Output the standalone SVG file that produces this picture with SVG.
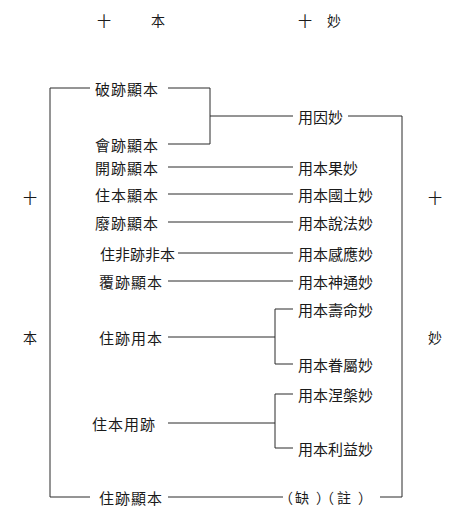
<svg xmlns="http://www.w3.org/2000/svg" width="464" height="529" viewBox="0 0 464 529">
<style>
text{font-family:"Noto Sans CJK TC","Noto Sans CJK SC",sans-serif;font-size:15px;fill:#1a1a1a;dominant-baseline:central}
.l{letter-spacing:1px}
.h{font-size:14px;text-anchor:middle}
.c line,.c polyline{stroke:#2a2a2a;stroke-width:1;fill:none}
</style>
<rect width="464" height="529" fill="#fff"/>
<g id="header">
<text class="h" x="104" y="20">十</text>
<text class="h" x="158" y="20">本</text>
<text class="h" x="305" y="20">十</text>
<text class="h" x="334" y="20">妙</text>
</g>
<g id="side">
<text class="h" x="30" y="197">十</text>
<text class="h" x="30" y="337">本</text>
<text class="h" x="435" y="197">十</text>
<text class="h" x="435" y="337">妙</text>
</g>
<g class="c" id="connectors">
<polyline points="90,88 50,88 50,497 90,497"/>
<polyline points="168,88 210,88 210,144 168,144"/>
<line x1="210" y1="116" x2="293" y2="116"/>
<polyline points="348,116 402,116 402,497 380,497"/>
<line x1="168" y1="167" x2="293" y2="167"/>
<line x1="168" y1="194" x2="293" y2="194"/>
<line x1="168" y1="222" x2="293" y2="222"/>
<line x1="178" y1="253" x2="293" y2="253"/>
<line x1="168" y1="281" x2="293" y2="281"/>
<line x1="168" y1="337" x2="275" y2="337"/>
<polyline points="293,309 275,309 275,364 293,364"/>
<line x1="168" y1="423" x2="275" y2="423"/>
<polyline points="293,394 275,394 275,448 293,448"/>
<line x1="168" y1="497" x2="283" y2="497"/>
</g>
<g id="n1"><text class="l" x="95" y="88">破跡顯本</text></g>
<g id="n2"><text class="l" x="95" y="144">會跡顯本</text></g>
<g id="n3"><text class="l" x="95" y="167">開跡顯本</text></g>
<g id="n4"><text class="l" x="95" y="194">住本顯本</text></g>
<g id="n5"><text class="l" x="95" y="222">廢跡顯本</text></g>
<g id="n6"><text x="100" y="253">住非跡非本</text></g>
<g id="n7"><text class="l" x="99" y="281">覆跡顯本</text></g>
<g id="n8"><text class="l" x="99" y="337">住跡用本</text></g>
<g id="n9"><text class="l" x="92" y="423">住本用跡</text></g>
<g id="n10"><text class="l" x="99" y="497">住跡顯本</text></g>
<g id="m1"><text x="298" y="116">用因妙</text></g>
<g id="m2"><text x="298" y="167">用本果妙</text></g>
<g id="m3"><text x="298" y="194">用本國土妙</text></g>
<g id="m4"><text x="298" y="222">用本說法妙</text></g>
<g id="m5"><text x="298" y="253">用本感應妙</text></g>
<g id="m6"><text x="298" y="281">用本神通妙</text></g>
<g id="m7"><text x="298" y="309">用本壽命妙</text></g>
<g id="m8"><text x="298" y="364">用本眷屬妙</text></g>
<g id="m9"><text x="298" y="394">用本涅槃妙</text></g>
<g id="m10"><text x="298" y="448">用本利益妙</text></g>
<g id="m11"><text x="286 302 323 327 344 365" y="497" style="font-size:14px;text-anchor:middle">（缺）（註）</text></g>
</svg>
